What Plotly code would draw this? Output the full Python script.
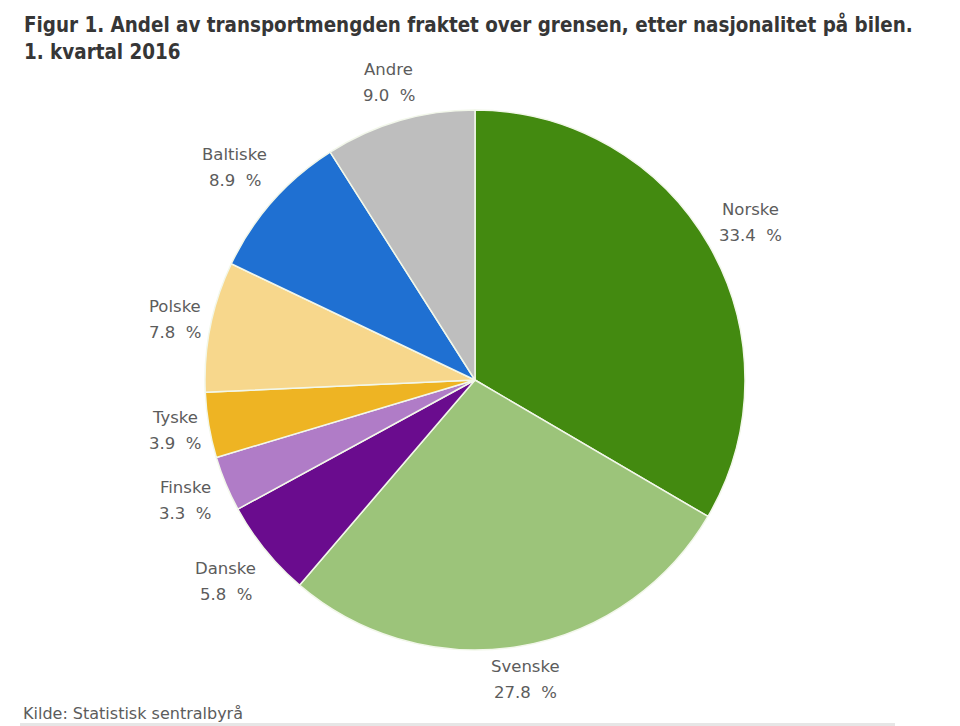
import math
import plotly.graph_objects as go

labels = ["Norske", "Svenske", "Danske", "Finske", "Tyske", "Polske", "Baltiske", "Andre"]
values = [33.4, 27.8, 5.8, 3.3, 3.9, 7.8, 8.9, 9.0]
colors = ["#438a10", "#9cc47a", "#6a0c8e", "#b07cc7", "#eeb423", "#f7d78c", "#1f70d2", "#bebebe"]

W, H = 960, 726
OFF = 8  # page body margin
cx, cy, R = 475 - OFF, 380 - OFF, 270

fig = go.Figure(go.Pie(
    labels=labels, values=values, sort=False, direction="clockwise", rotation=0,
    marker=dict(colors=colors, line=dict(color="#f2f7ea", width=1.5)),
    textinfo="none", hoverinfo="label+value", showlegend=False,
    domain=dict(x=[(cx - R) / W, (cx + R) / W], y=[1 - (cy + R) / H, 1 - (cy - R) / H]),
))

total = sum(values)
cum = 0.0
ann = []
lab_font = dict(family="DejaVu Sans", size=16.5, color="#5c5c5c")
for lab, v in zip(labels, values):
    mid = (cum + v / 2) / total
    cum += v
    a = 2 * math.pi * mid
    dx, dy = math.sin(a), -math.cos(a)
    r = R + 26 + 50 * abs(dx * dy)
    x = cx + r * dx
    y = cy + r * dy
    for txt, oy in ((lab, -13), (f"{v:.1f}  %", 13)):
        ann.append(dict(x=x / W, y=1 - (y + oy) / H, xref="paper", yref="paper",
                        text=txt, showarrow=False, xanchor="center", yanchor="middle",
                        font=lab_font))

ann.append(dict(x=(22 - OFF) / W, y=1 - (10 - OFF) / H, xref="paper", yref="paper", xanchor="left", yanchor="top",
                align="left", showarrow=False,
                text="<b>Figur 1. Andel av transportmengden fraktet over grensen, etter nasjonalitet på bilen.<br>1. kvartal 2016</b>",
                font=dict(family="DejaVu Sans Condensed", size=20.4, color="#363636")))
ann.append(dict(x=(21 - OFF) / W, y=1 - (713 - OFF) / H, xref="paper", yref="paper", xanchor="left", yanchor="middle",
                showarrow=False, text="Kilde: Statistisk sentralbyrå",
                font=dict(family="DejaVu Sans", size=16, color="#5c5c5c")))

fig.update_layout(width=W, height=H, margin=dict(l=0, r=0, t=0, b=0),
                  paper_bgcolor="white", plot_bgcolor="white", annotations=ann,
                  shapes=[dict(type="line", xref="paper", yref="paper",
                               x0=(20 - OFF) / W, x1=(895 - OFF) / W,
                               y0=1 - (724.5 - OFF) / H, y1=1 - (724.5 - OFF) / H,
                               line=dict(color="#e6e6e6", width=3))])
fig.write_html("out.html")
